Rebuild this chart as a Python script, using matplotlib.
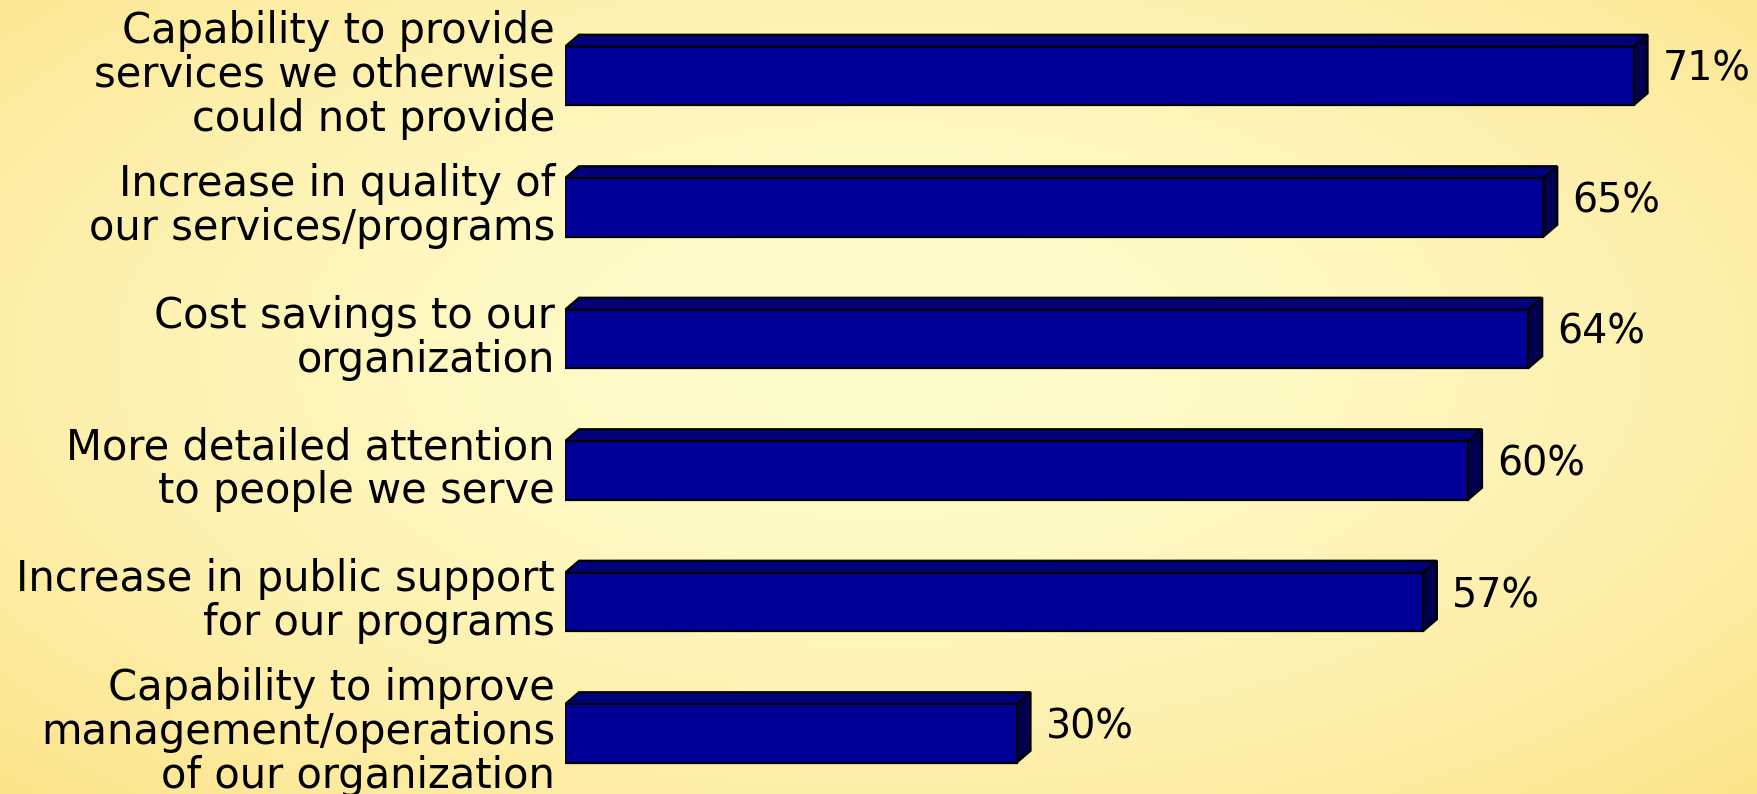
import matplotlib.pyplot as plt
from matplotlib.patches import Polygon
import numpy as np

# survey results, top to bottom
labels = ['Capability to provide\nservices we otherwise\ncould not provide',
          'Increase in quality of\nour services/programs',
          'Cost savings to our\norganization',
          'More detailed attention\nto people we serve',
          'Increase in public support\nfor our programs',
          'Capability to improve\nmanagement/operations\nof our organization']
values = [71, 65, 64, 60, 57, 30]
value_text = ['71%', '65%', '64%', '60%', '57%', '30%']

W, H = 1757, 794
fig = plt.figure(figsize=(W / 100, H / 100), dpi=100)

# yellow backdrop, pale in the middle and deeper toward the corners
bg = fig.add_axes([0, 0, 1, 1])
yy, xx = np.mgrid[0:H, 0:W]
r = np.sqrt(((xx - W * 0.5) / (W * 0.5)) ** 2 + ((yy - H * 0.45) / (H * 0.55)) ** 2) / np.sqrt(2)
r = np.clip(r, 0, 1) ** 1.7
c0 = np.array([255, 252, 204]) / 255.0
c1 = np.array([252, 227, 138]) / 255.0
img = c0[None, None, :] + (c1 - c0)[None, None, :] * r[:, :, None]
bg.imshow(img, aspect='auto', interpolation='bilinear')
bg.axis('off')

# bar axes: x in percent, y in category slots
x0 = 565
px_per_pct = 15.05
slot = 131.5
first = 76
ax = fig.add_axes([x0 / W, 0, 1 - x0 / W, 1])
ax.set_xlim(0, (W - x0) / px_per_pct)
ax.set_ylim((H - first) / slot, -first / slot)
ax.axis('off')
ax.patch.set_alpha(0)

h = 0.445
dx = 14 / px_per_pct
dy = 12 / slot
front = '#000099'
top = '#00007a'
side = '#00004f'

ypos = np.arange(len(values))
ax.barh(ypos, values, height=h, color=front, edgecolor='black', linewidth=1.6, zorder=3)
for y, v, t, lab in zip(ypos, values, value_text, labels):
    yt = y - h / 2
    yb = y + h / 2
    ax.add_patch(Polygon([(0, yt), (v, yt), (v + dx, yt - dy), (dx, yt - dy)],
                         closed=True, facecolor=top, edgecolor='black', linewidth=1.6, zorder=2))
    ax.add_patch(Polygon([(v, yt), (v + dx, yt - dy), (v + dx, yb - dy), (v, yb)],
                         closed=True, facecolor=side, edgecolor='black', linewidth=1.6, zorder=2))
    ax.text(v + 1.95, y - dy / 2, t, ha='left', va='center', fontsize=28.5,
            family='DejaVu Sans', color='black')
    ax.text(-10 / px_per_pct, y - 0.01, lab, ha='right', va='center', fontsize=30,
            family='DejaVu Sans', color='black', linespacing=1.06, clip_on=False)

fig.savefig('out.png', dpi=100)
